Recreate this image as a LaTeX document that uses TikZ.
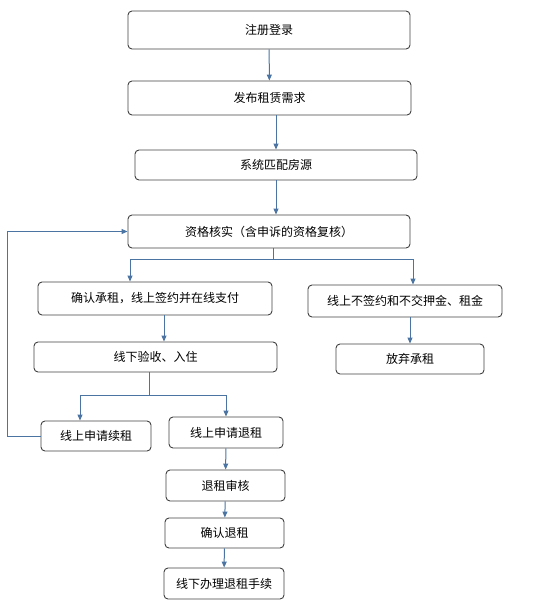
\documentclass[tikz,border=0pt]{standalone}
\usepackage{fontspec}
\newfontfamily\cjk{Noto Sans CJK SC}
\usetikzlibrary{arrows.meta}
\definecolor{linkblue}{HTML}{4B74A2}

\begin{document}
\begin{tikzpicture}[x=1pt, y=-1pt, font=\cjk\fontsize{12}{14}\selectfont,
  stepbox/.style={draw=black!75, line width=0.9pt, rounded corners=4pt, inner sep=0pt},
  link/.style={draw=linkblue, line width=1pt},
  flow/.style={link, -{Triangle[length=6pt,width=5pt]}}]
  \useasboundingbox (0,0) rectangle (540,616);
  \foreach \n/\x/\y/\w/\h/\t in {
      reg/269/30/282/38/注册登录,
      pub/269.5/98/283/34/发布租赁需求,
      match/276/165/282/30/系统匹配房源,
      check/269/231.5/282/33/资格核实（含申诉的资格复核）,
      confirm/155/298.5/234/33/确认承租，线上签约并在线支付,
      decline/405/301/194/32/线上不签约和不交押金、租金,
      inspect/155.5/357/243/30/线下验收、入住,
      giveup/410/359/148/30/放弃承租,
      renew/96/436/110/30/线上申请续租,
      refund/226/432.5/114/31/线上申请退租,
      audit/225.5/485.5/119/31/退租审核,
      agree/224.5/533/119/30/确认退租,
      offline/224/583.5/120/31/线下办理退租手续}
    \node[stepbox, minimum width=\w pt, minimum height=\h pt] (\n) at (\x,\y) {\t};

  \coordinate (fork1) at (273,259);
  \coordinate (fork2) at (149,395);

  \draw[flow] (reg) -- (pub);
  \draw[flow] (match.north |- pub.south) -- (match.north);
  \draw[flow] (match.south) -- (match.south |- check.north);
  \draw[link] (fork1 |- check.south) -- (fork1);
  \draw[flow] (fork1) -| ([xshift=-25]confirm.north);
  \draw[flow] (fork1) -| ([xshift=8]decline.north);
  \draw[flow] ([xshift=9]confirm.south) -- ([xshift=9]confirm.south |- inspect.north);
  \draw[flow] (decline.south -| giveup.north) -- (giveup.north);
  \draw[link] (fork2 |- inspect.south) -- (fork2);
  \draw[flow] (fork2) -| ([xshift=-16]renew.north);
  \draw[flow] (fork2) -| (refund.north);
  \foreach \a/\b in {refund/audit, audit/agree, agree/offline}
    \draw[flow] (\a) -- (\b);
  \draw[flow] (renew.west) -- ++(-33,0) |- (check.west);
\end{tikzpicture}
\end{document}
